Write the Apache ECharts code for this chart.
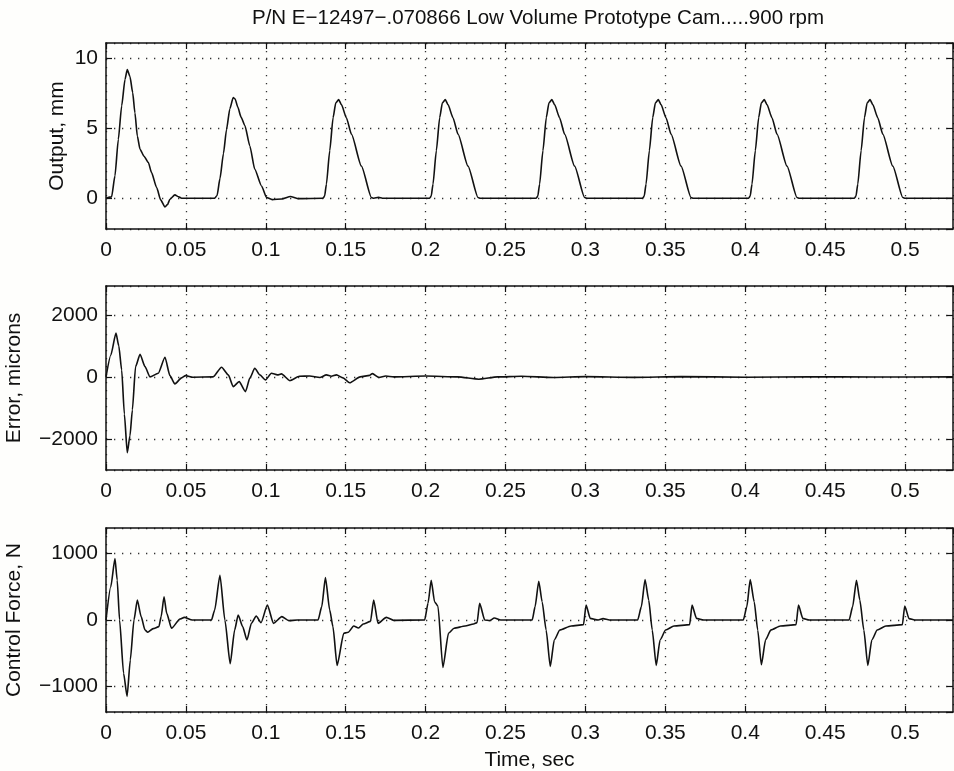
<!DOCTYPE html>
<html>
<head>
<meta charset="utf-8">
<script src="https://cdn.jsdelivr.net/npm/echarts@6/dist/echarts.min.js"></script>
<style>
  html, body { margin: 0; padding: 0; background: #fefefc; }
  #chart { width: 954px; height: 771px; }
</style>
</head>
<body>
<div id="chart"></div>
<script>
// Output, mm
var outT = [0, 0.0035, 0.0056, 0.0077, 0.0098, 0.0119, 0.0133, 0.015, 0.0167, 0.0181, 0.0196, 0.0213, 0.0238, 0.0265, 0.0285, 0.0317, 0.0342, 0.0369, 0.0385, 0.040, 0.0431, 0.0455, 0.0473,
  0.068, 0.0695, 0.0713, 0.0735, 0.0754, 0.0775, 0.0796, 0.0808, 0.0825, 0.0845, 0.0869, 0.09, 0.0931, 0.0973, 0.1005, 0.104, 0.11, 0.1154, 0.12,
  0.1358, 0.1368, 0.1379, 0.14, 0.1421, 0.1438, 0.1456, 0.1473, 0.1504, 0.1536, 0.1598, 0.1661, 0.1676, 0.1705, 0.173,
  0.2025, 0.2035, 0.2046, 0.2067, 0.2088, 0.2105, 0.2123, 0.214, 0.2171, 0.2203, 0.2265, 0.2328, 0.2343,
  0.2692, 0.2702, 0.2713, 0.2734, 0.2755, 0.2772, 0.279, 0.2807, 0.2838, 0.287, 0.2932, 0.2995, 0.301,
  0.3358, 0.3368, 0.3379, 0.34, 0.3421, 0.3438, 0.3456, 0.3473, 0.3504, 0.3536, 0.3598, 0.3661, 0.3676,
  0.4021, 0.4031, 0.4042, 0.4063, 0.4084, 0.4101, 0.4119, 0.4136, 0.4167, 0.4199, 0.4261, 0.4324, 0.4339,
  0.4683, 0.4693, 0.4704, 0.4725, 0.4746, 0.4763, 0.4781, 0.4798, 0.4829, 0.4861, 0.4923, 0.4986, 0.5001, 0.53];
var outV = [0, 0.1, 1.6, 4.2, 6.6, 8.5, 9.2, 8.7, 7.55, 6.1, 4.45, 3.5, 3.0, 2.55, 1.83, 0.76, -0.12, -0.62, -0.45, -0.07, 0.24, 0.1, 0,
  0, 0.2, 1.4, 3.2, 4.9, 6.4, 7.2, 7.1, 6.5, 5.8, 5.2, 3.74, 2.07, 0.88, 0.05, -0.1, -0.05, 0.12, -0.03,
  0, 0.15, 1.0, 3.4, 5.76, 6.83, 7.05, 6.7, 5.76, 4.57, 2.3, 0.05, 0, 0.06, 0,
  0, 0.15, 1.0, 3.4, 5.76, 6.83, 7.05, 6.7, 5.76, 4.57, 2.3, 0.05, 0,
  0, 0.15, 1.0, 3.4, 5.76, 6.83, 7.05, 6.7, 5.76, 4.57, 2.3, 0.05, 0,
  0, 0.15, 1.0, 3.4, 5.76, 6.83, 7.05, 6.7, 5.76, 4.57, 2.3, 0.05, 0,
  0, 0.15, 1.0, 3.4, 5.76, 6.83, 7.05, 6.7, 5.76, 4.57, 2.3, 0.05, 0,
  0, 0.15, 1.0, 3.4, 5.76, 6.83, 7.05, 6.7, 5.76, 4.57, 2.3, 0.05, 0, 0];

// Error, microns
var errT = [0, 0.003, 0.00625, 0.008, 0.0098, 0.0115, 0.0133, 0.015, 0.0165, 0.0185, 0.0213, 0.0244, 0.0275, 0.0327, 0.0369, 0.040, 0.0431, 0.0473, 0.0498, 0.0544,
  0.067, 0.0723, 0.0765, 0.0796, 0.0833, 0.0873, 0.09, 0.0931, 0.0963, 0.0998, 0.1035, 0.1073, 0.1098, 0.115, 0.121, 0.1275, 0.1338, 0.1379, 0.141, 0.1442, 0.1483,
  0.1525, 0.159, 0.165, 0.1667, 0.1708, 0.175, 0.18, 0.20, 0.22, 0.2333, 0.245, 0.26, 0.28, 0.30, 0.33, 0.36, 0.40, 0.44, 0.48, 0.53];
var errV = [0, 700, 1410, 1000, 226, -1200, -2442, -1900, -1065, 333, 731, 333, 0, 118, 634, 40, -226, -30, 43, -10,
  0, 312, 65, -312, -151, -473, -40, 280, 65, -97, 118, 65, 97, -118, 20, 30, -20, 65, 20, 65, -30,
  -190, 0, 50, 107, -20, 30, 0, 30, 0, -75, 0, 20, -20, 10, -15, 10, -10, 5, -5, 0];

// Control Force, N
var forceT = [0, 0.003, 0.0056, 0.007, 0.0085, 0.011, 0.0132, 0.0152, 0.0175, 0.0196, 0.022, 0.0244, 0.0261, 0.0295, 0.0331, 0.0345, 0.0363, 0.038, 0.041, 0.0463, 0.049, 0.054,
  0.066, 0.068, 0.0713, 0.0744, 0.0777, 0.0805, 0.0827, 0.0855, 0.0882, 0.091, 0.094, 0.097, 0.101, 0.1048, 0.11, 0.1144, 0.1196,
  0.1327, 0.135, 0.1373, 0.140, 0.142, 0.1446, 0.1488, 0.1516, 0.155, 0.158, 0.161, 0.1655, 0.1675, 0.1702, 0.1754, 0.18,
  0.1994, 0.2015, 0.2035, 0.2056, 0.2077, 0.2108, 0.2143, 0.2178, 0.2247, 0.23, 0.2322, 0.2338, 0.237, 0.240, 0.243, 0.247,
  0.2667, 0.2685, 0.2708, 0.2729, 0.2754, 0.278, 0.2805, 0.284, 0.291, 0.2988, 0.3004, 0.303, 0.308, 0.311, 0.315,
  0.3327, 0.335, 0.3373, 0.3396, 0.3418, 0.3443, 0.3467, 0.3502, 0.3554, 0.3652, 0.3667, 0.3695, 0.374,
  0.3988, 0.401, 0.4031, 0.4056, 0.4078, 0.4101, 0.4127, 0.416, 0.422, 0.4318, 0.4333, 0.436, 0.44,
  0.465, 0.4672, 0.4696, 0.4717, 0.4742, 0.4767, 0.4792, 0.4826, 0.488, 0.4983, 0.4998, 0.5025, 0.506, 0.53];
var forceV = [0, 500, 921, 600, 0, -800, -1145, -600, 0, 299, 50, -150, -184, -130, -100, 50, 348, 100, -124, 15, 40, 0,
  0, 150, 672, 0, -657, -150, 75, -100, -299, -50, 60, -40, 224, -50, 50, -10, 0,
  0, 200, 637, 149, -100, -682, -199, -184, -90, -120, -60, -20, 299, -50, 40, -5,
  0, 250, 597, 274, 209, -712, -199, -124, -90, -60, -40, 249, 0, -10, 30, 0,
  0, 200, 582, 274, -150, -697, -299, -150, -90, -70, 224, 25, 0, 20, 0,
  0, 200, 607, 299, -150, -682, -299, -150, -90, -70, 224, 25, 0,
  0, 200, 607, 274, -150, -672, -299, -150, -90, -70, 224, 25, 0,
  0, 200, 597, 299, -150, -682, -299, -150, -90, -70, 209, 20, 0, 0];

var xTicks = 0.05;
var timeMax = 0.53;
var yRanges = [[-2.2, 11.1], [-3000, 2930], [-1380, 1380]];
var yNames = ['Output, mm', 'Error, microns', 'Control Force, N'];
var titleText = 'P/N E\u221212497\u2212.070866 Low Volume Prototype Cam.....900 rpm';

function zip(ts, vs) {
  return ts.map(function (t, i) { return [t, vs[i]]; });
}

var font = "'Liberation Sans', Arial, Helvetica, sans-serif";
var fs = 21;
var tops = [43, 286, 528];
var heights = [186, 184, 184];
var gaps = [38, 81, 81];

var grids = [], xAxes = [], yAxes = [], series = [];
var dataSets = [zip(outT, outV), zip(errT, errV), zip(forceT, forceV)];

var tickStyle = { show: true, inside: true, length: 6, lineStyle: { color: '#111', width: 1.2 } };
var lineStyleAxis = { show: true, onZero: false, lineStyle: { color: '#111', width: 1.5 } };
var dotted = { show: true, lineStyle: { color: '#333', width: 1.3, type: [1.3, 6.7] } };

for (var i = 0; i < 3; i++) {
  grids.push({ left: 106, right: 1, top: tops[i], height: heights[i], outerBoundsMode: 'none', containLabel: false });
  xAxes.push({
    type: 'value', gridIndex: i, min: 0, max: timeMax, interval: xTicks, position: 'bottom',
    axisLine: lineStyleAxis, axisTick: tickStyle, splitLine: dotted,
    axisLabel: { show: true, margin: 11, color: '#111', fontSize: fs, fontFamily: font, showMaxLabel: false,
      formatter: function (v) { return String(Math.round(v * 1000) / 1000); } },
    name: i === 2 ? 'Time, sec' : '', nameLocation: 'middle', nameGap: 38, nameMoveOverlap: false,
    nameTextStyle: { color: '#111', fontSize: fs, fontFamily: font }
  });
  xAxes.push({
    type: 'value', gridIndex: i, min: 0, max: timeMax, interval: xTicks, position: 'top',
    axisLine: lineStyleAxis, axisTick: tickStyle, splitLine: { show: false }, axisLabel: { show: false }
  });
  yAxes.push({
    type: 'value', gridIndex: i, min: yRanges[i][0], max: yRanges[i][1], splitNumber: 3, position: 'left',
    axisLine: lineStyleAxis, axisTick: tickStyle, splitLine: dotted,
    axisLabel: { show: true, margin: 8, color: '#111', fontSize: fs, fontFamily: font,
      showMinLabel: false, showMaxLabel: false,
      formatter: function (v) { return String(v).replace('-', '\u2212'); } },
    name: yNames[i], nameLocation: 'middle', nameGap: gaps[i], nameMoveOverlap: false,
    nameTextStyle: { color: '#111', fontSize: fs, fontFamily: font }
  });
  yAxes.push({
    type: 'value', gridIndex: i, min: yRanges[i][0], max: yRanges[i][1], splitNumber: 3, position: 'right',
    axisLine: lineStyleAxis, axisTick: tickStyle, splitLine: { show: false }, axisLabel: { show: false }
  });
  series.push({
    type: 'line', xAxisIndex: i * 2, yAxisIndex: i * 2, data: dataSets[i],
    showSymbol: false, smooth: 0.2, smoothMonotone: 'x', silent: true,
    lineStyle: { color: '#111', width: 1.6 }
  });
}

var chart = echarts.init(document.getElementById('chart'));
chart.setOption({
  backgroundColor: '#fefefc',
  animation: false,
  title: {
    text: titleText, left: 533, top: 3, textAlign: 'center',
    textStyle: { color: '#111', fontSize: 20.5, fontWeight: 'normal', fontFamily: font }
  },
  grid: grids,
  xAxis: xAxes,
  yAxis: yAxes,
  series: series
});
</script>
</body>
</html>
